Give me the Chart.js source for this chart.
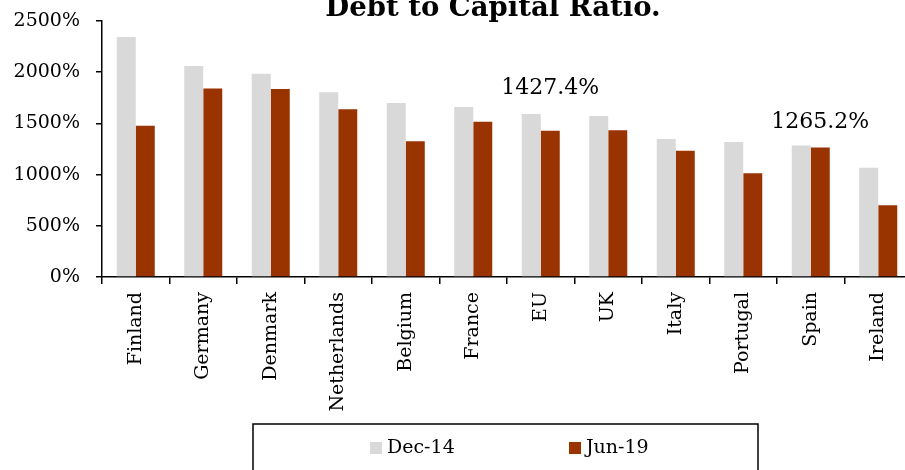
<!DOCTYPE html>
<html>
<head>
<meta charset="utf-8">
<script src="https://cdn.jsdelivr.net/npm/chart.js@4/dist/chart.umd.min.js"></script>
<style>
  html, body { margin: 0; padding: 0; background: #fff; overflow: hidden; }
  #wrap { position: relative; width: 915px; height: 470px; }
</style>
</head>
<body>
<div id="wrap"><canvas id="chart"></canvas></div>
<script>
const categories = ['Finland', 'Germany', 'Denmark', 'Netherlands', 'Belgium', 'France', 'EU', 'UK', 'Italy', 'Portugal', 'Spain', 'Ireland'];
const seriesNames = ['Dec-14', 'Jun-19'];
const dec14 = [2344, 2060, 1986, 1803, 1699, 1660, 1592, 1572, 1348, 1318, 1283, 1068];
const jun19 = [1478, 1842, 1836, 1637, 1325, 1517, 1427.4, 1432, 1234, 1012, 1265.2, 700];
const yTicks = [0, 500, 1000, 1500, 2000, 2500];
// value callouts shown on the Jun-19 bars
const jun19Callouts = [null, null, null, null, null, null, '1427.4%', null, null, null, '1265.2%', null];

const titleText = 'Debt to Capital Ratio.';
const serif = '"DejaVu Serif", serif';

Chart.defaults.font.family = serif;
Chart.defaults.color = '#000';

// title, callouts and boxed legend
const extras = {
  id: 'extras',
  afterDraw(chart) {
    const ctx = chart.ctx;
    const area = chart.chartArea;
    ctx.save();

    // title (top is clipped in the original)
    ctx.font = 'bold 27.5px ' + serif;
    ctx.fillStyle = '#000';
    ctx.textAlign = 'center';
    ctx.textBaseline = 'alphabetic';
    ctx.fillText(titleText, (area.left + area.right) / 2 - 14, 16);

    // callouts above Jun-19 bars
    const gaps = { 6: 43, 10: 25 };
    const meta = chart.getDatasetMeta(1);
    ctx.font = '22px ' + serif;
    ctx.textBaseline = 'middle';
    jun19Callouts.forEach((txt, i) => {
      if (!txt) return;
      const bar = meta.data[i];
      ctx.fillText(txt, bar.x, bar.y - gaps[i]);
    });

    // legend box
    ctx.strokeStyle = '#000';
    ctx.lineWidth = 1.5;
    ctx.strokeRect(253, 424, 505, 60);
    ctx.font = '19px ' + serif;
    ctx.textAlign = 'left';
    const itemX = [370, 569];
    chart.data.datasets.forEach((ds, k) => {
      ctx.fillStyle = ds.backgroundColor;
      ctx.fillRect(itemX[k], 442, 12, 12);
      ctx.fillStyle = '#000';
      ctx.fillText(ds.label, itemX[k] + 17, 448);
    });
    ctx.restore();
  }
};

new Chart(document.getElementById('chart'), {
  type: 'bar',
  data: {
    labels: categories,
    datasets: [
      { label: seriesNames[0], data: dec14, backgroundColor: '#D9D9D9', categoryPercentage: 0.563, barPercentage: 1 },
      { label: seriesNames[1], data: jun19, backgroundColor: '#993300', categoryPercentage: 0.563, barPercentage: 1 }
    ]
  },
  options: {
    responsive: true,
    maintainAspectRatio: false,
    animation: false,
    layout: { padding: { top: 21, right: 3, bottom: 53, left: 0 } },
    plugins: {
      legend: { display: false },
      title: { display: false },
      tooltip: { enabled: false }
    },
    scales: {
      x: {
        grid: { display: true, drawOnChartArea: false, offset: true, color: '#000', lineWidth: 1.5, tickLength: 7 },
        border: { color: '#000', width: 1.5 },
        ticks: { minRotation: 90, maxRotation: 90, autoSkip: false, padding: 8, font: { size: 19 } },
        afterFit(s) { s.height = 140; }
      },
      y: {
        min: 0,
        max: 2500,
        grid: { display: true, drawOnChartArea: false, color: '#000', lineWidth: 1.5, tickLength: 6 },
        border: { color: '#000', width: 1.5 },
        ticks: { padding: 16, font: { size: 19 }, callback: v => v + '%' },
        afterBuildTicks(s) { s.ticks = yTicks.map(v => ({ value: v })); },
        afterFit(s) { s.width = 102; s.paddingTop = 12; s.paddingBottom = 0; }
      }
    }
  },
  plugins: [extras]
});
</script>
</body>
</html>
